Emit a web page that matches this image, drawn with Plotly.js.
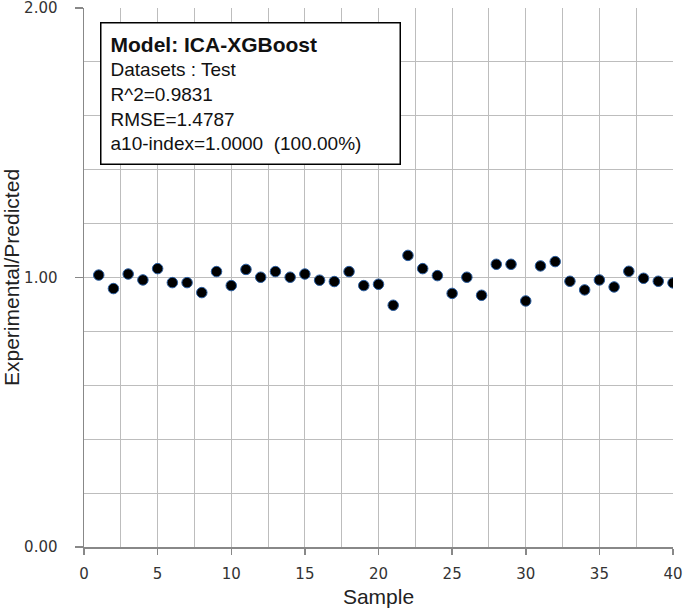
<!DOCTYPE html>
<html><head><meta charset="utf-8">
<script src="https://cdn.plot.ly/plotly-3.0.1.min.js"></script>
<style>html,body{margin:0;padding:0;background:#fff}#chart{width:685px;height:616px}</style>
</head><body><div id="chart"></div>
<script>
const samples = Array.from({length:40},(_,i)=>i+1);
const ratio = [1.009,0.959,1.013,0.991,1.033,0.981,0.981,0.944,1.022,0.970,
               1.030,1.001,1.022,1.001,1.013,0.990,0.985,1.022,0.970,0.975,
               0.897,1.082,1.033,1.007,0.941,1.001,0.934,1.049,1.049,0.913,
               1.043,1.059,0.986,0.954,0.991,0.965,1.023,0.997,0.986,0.980];
const yTickVals = [0,1,2];
const yTickText = ['0.00','1.00','2.00'];
const infoTitle = 'Model: ICA-XGBoost';
const infoLines = ['Datasets : Test','R^2=0.9831','RMSE=1.4787','a10-index=1.0000  (100.00%)'];

const trace = {
  x: samples, y: ratio, type:'scatter', mode:'markers',
  marker:{color:'#000', size:10.5, line:{color:'#2a5d9f', width:1}},
  showlegend:false, hoverinfo:'skip'
};
const gridCol = '#bdbdbd';
const tickFont = {family:'DejaVu Sans, sans-serif', size:15, color:'#333'};
const layout = {
  width:685, height:616,
  margin:{l:84, r:12, t:8, b:69},
  paper_bgcolor:'#fff', plot_bgcolor:'#fff',
  font:{family:'Liberation Sans, Arial, sans-serif', color:'#000'},
  xaxis:{range:[0,40], tickmode:'linear', tick0:0, dtick:5,
    ticks:'outside', ticklen:6, tickcolor:'#888', tickwidth:1.5, showgrid:true, gridcolor:gridCol,
    minor:{dtick:2.5, showgrid:true, gridcolor:gridCol},
    showline:true, linecolor:'#888', linewidth:1.5, zeroline:false,
    tickfont:tickFont, ticklabelstandoff:6, ticklabeloverflow:'allow',
    title:{text:'Sample', font:{size:21, color:'#222'}, standoff:8}},
  yaxis:{range:[0,2], tickmode:'array', tickvals:yTickVals, ticktext:yTickText,
    ticks:'outside', ticklen:8, tickcolor:'#888', tickwidth:1.5, showgrid:true, gridcolor:gridCol,
    minor:{tickmode:'linear', tick0:0, dtick:0.2, showgrid:true, gridcolor:gridCol},
    showline:true, linecolor:'#888', linewidth:1.5, zeroline:false,
    tickfont:tickFont, ticklabelstandoff:14, ticklabeloverflow:'allow',
    title:{text:'Experimental/Predicted', font:{size:21, color:'#222'}, standoff:6}},
  annotations:[{
    xref:'paper', yref:'paper', x:0.027, y:0.974, xanchor:'left', yanchor:'top',
    text: '<span style="font-size:21px"><b>'+infoTitle+'</b></span><br>'+infoLines.join('<br>'),
    align:'left', showarrow:false, width:280,
    font:{size:19, color:'#111'}, bgcolor:'#fff', bordercolor:'#000', borderwidth:1.5, borderpad:9
  }]
};
Plotly.newPlot('chart',[trace],layout,{displayModeBar:false, staticPlot:true});
</script></body></html>
